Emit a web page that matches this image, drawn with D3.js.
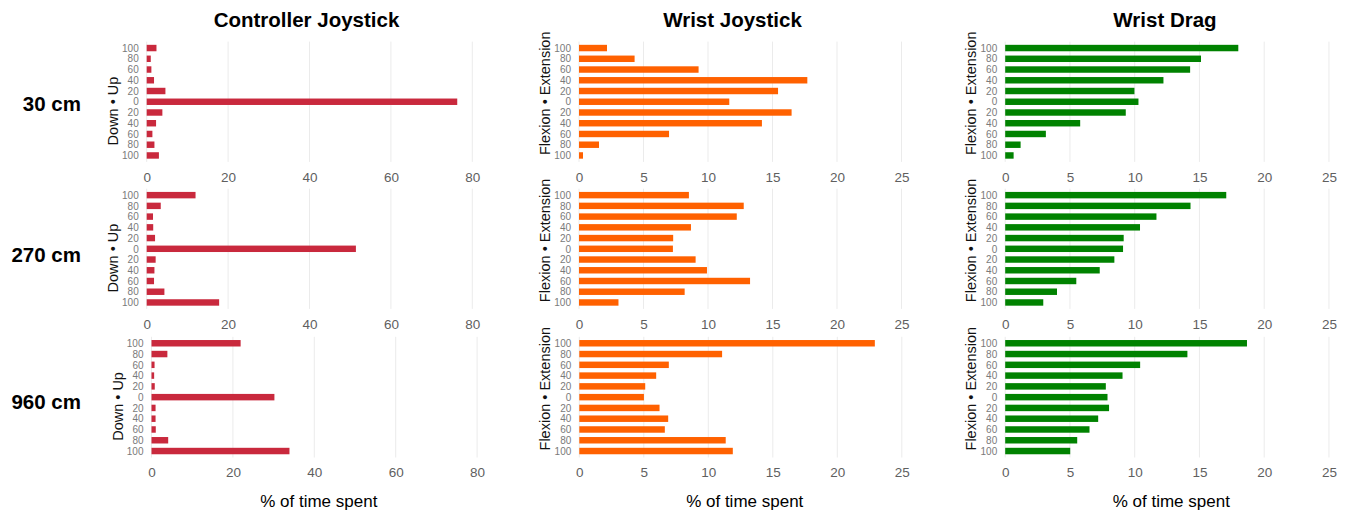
<!DOCTYPE html>
<html>
<head>
<meta charset="utf-8">
<script src="https://cdn.jsdelivr.net/npm/d3@7"></script>
<style>
  html, body { margin: 0; padding: 0; background: #fff; }
  svg text { font-family: "Liberation Sans", Arial, Helvetica, sans-serif; }
</style>
</head>
<body>
<svg id="chart" width="1348" height="516"></svg>
<script>
// Tilt bins, listed top to bottom (upper half = up / extension, lower half = down / flexion)
const binLabels = ["100", "80", "60", "40", "20", "0", "20", "40", "60", "80", "100"];
const columnTitles = ["Controller Joystick", "Wrist Joystick", "Wrist Drag"];
const rowLabels = ["30 cm", "270 cm", "960 cm"];
const axisTitles = ["Down \u2022 Up", "Flexion \u2022 Extension", "Flexion \u2022 Extension"];
const xTicksController = [0, 20, 40, 60, 80];
const xTicksWrist = [0, 5, 10, 15, 20, 25];
const xLabel = "% of time spent";

// % of time spent in each bin
const controller30  = [2.4, 1.0, 1.15, 1.8, 4.6, 76.3, 3.85, 2.3, 1.4, 1.9, 3.0];
const controller270 = [12.0, 3.45, 1.55, 1.6, 2.05, 51.4, 2.2, 1.9, 1.8, 4.35, 17.8];
const controller960 = [21.9, 3.9, 0.75, 0.65, 0.8, 30.2, 1.0, 1.0, 1.05, 4.1, 33.9];

const wristJoystick30  = [2.17, 4.31, 9.27, 17.7, 15.43, 11.65, 16.48, 14.18, 6.98, 1.55, 0.31];
const wristJoystick270 = [8.52, 12.77, 12.23, 8.68, 7.3, 7.28, 9.04, 9.92, 13.26, 8.19, 3.06];
const wristJoystick960 = [22.91, 11.07, 6.94, 5.96, 5.11, 5.01, 6.22, 6.89, 6.63, 11.35, 11.9];

const wristDrag30  = [18.0, 15.12, 14.28, 12.22, 9.98, 10.29, 9.31, 5.79, 3.14, 1.19, 0.65];
const wristDrag270 = [17.07, 14.31, 11.68, 10.41, 9.15, 9.1, 8.43, 7.3, 5.49, 4.0, 2.94];
const wristDrag960 = [18.67, 14.07, 10.42, 9.06, 7.77, 7.9, 8.02, 7.18, 6.51, 5.56, 5.02];

const seriesGrid = [
  [controller30, wristJoystick30, wristDrag30],
  [controller270, wristJoystick270, wristDrag270],
  [controller960, wristJoystick960, wristDrag960]
];

// ---- layout ----
const barColors = ["#C9293D", "#FF6100", "#008200"];
const columns = [
  { x0: 146.7, pxPerUnit: 4.07, xMax: 82.2, ticks: xTicksController, titleX: 306.5 },
  { x0: 579.0, pxPerUnit: 12.9, xMax: 25.65, ticks: xTicksWrist, titleX: 732.5 },
  { x0: 1005.2, pxPerUnit: 12.95, xMax: 25.65, ticks: xTicksWrist, titleX: 1165 }
];
const rowBands = [[41.6, 161.9], [188.7, 308.9], [336.8, 457.5]];
const rowLabelBaselines = [111, 261.5, 409];
const panelShift = [[0, 0, 0], [0, 0, 0], [4.8, 0.3, 0]];

const svg = d3.select("#chart");

// column titles
columnTitles.forEach((t, c) => {
  svg.append("text")
    .attr("x", columns[c].titleX).attr("y", 27)
    .attr("text-anchor", "middle")
    .attr("font-size", "20.5px").attr("font-weight", "bold").attr("fill", "#000")
    .text(t);
});

// row labels
rowLabels.forEach((t, r) => {
  svg.append("text")
    .attr("x", 81).attr("y", rowLabelBaselines[r])
    .attr("text-anchor", "end")
    .attr("font-size", "20.5px").attr("font-weight", "bold").attr("fill", "#000")
    .text(t);
});

seriesGrid.forEach((rowSeries, r) => {
  rowSeries.forEach((values, c) => {
    const col = columns[c];
    const x0 = col.x0 + panelShift[r][c];
    const [top, bottom] = rowBands[r];

    const x = d3.scaleLinear()
      .domain([0, col.xMax])
      .range([x0, x0 + col.xMax * col.pxPerUnit]);

    const y = d3.scalePoint()
      .domain(d3.range(binLabels.length))
      .range([top, bottom])
      .padding(0.6);

    const barH = y.step() * 0.6;
    const g = svg.append("g");

    // vertical grid lines
    g.append("g").selectAll("line")
      .data(col.ticks)
      .join("line")
      .attr("x1", d => x(d)).attr("x2", d => x(d))
      .attr("y1", top).attr("y2", bottom)
      .attr("stroke", "#EBEBEB").attr("stroke-width", 1);

    // bars
    g.append("g").selectAll("rect")
      .data(values)
      .join("rect")
      .attr("x", x(0))
      .attr("y", (d, i) => y(i) - barH / 2)
      .attr("width", d => x(d) - x(0))
      .attr("height", barH)
      .attr("fill", barColors[c]);

    // x axis
    const xAxis = g.append("g")
      .attr("transform", `translate(0,${bottom})`)
      .call(d3.axisBottom(x).tickValues(col.ticks).tickSize(0).tickPadding(10.2).tickFormat(d3.format("d")));
    xAxis.select(".domain").remove();
    xAxis.selectAll("text")
      .attr("font-size", "13.5px").attr("fill", "#5F5F5F")
      .style("font-family", "'Liberation Sans', Arial, sans-serif");

    // y axis
    const yAxis = g.append("g")
      .attr("transform", `translate(${x0},0)`)
      .call(d3.axisLeft(y).tickSize(0).tickPadding(8).tickFormat(i => binLabels[i]));
    yAxis.select(".domain").remove();
    yAxis.selectAll("text")
      .attr("font-size", "10px").attr("fill", "#7A7A7A")
      .style("font-family", "'Liberation Sans', Arial, sans-serif");

    // y axis title, with the bullet aligned to the centre bin
    const centreY = y(5);
    const title = g.append("text")
      .attr("transform", `translate(${x0 - 34},${centreY}) rotate(-90)`)
      .attr("text-anchor", "start")
      .attr("dy", "0.35em")
      .attr("font-size", "14.5px").attr("fill", "#111")
      .text(axisTitles[c]);
    const node = title.node();
    const idx = axisTitles[c].indexOf("\u2022");
    const offset = node.getSubStringLength(0, idx) + node.getSubStringLength(idx, 1) / 2;
    title.attr("x", -offset);

    // x axis title on the bottom row
    if (r === rowBands.length - 1) {
      svg.append("text")
        .attr("x", x(col.xMax / 2)).attr("y", 506.5)
        .attr("text-anchor", "middle")
        .attr("font-size", "17px").attr("fill", "#000")
        .text(xLabel);
    }
  });
});
</script>
</body>
</html>
